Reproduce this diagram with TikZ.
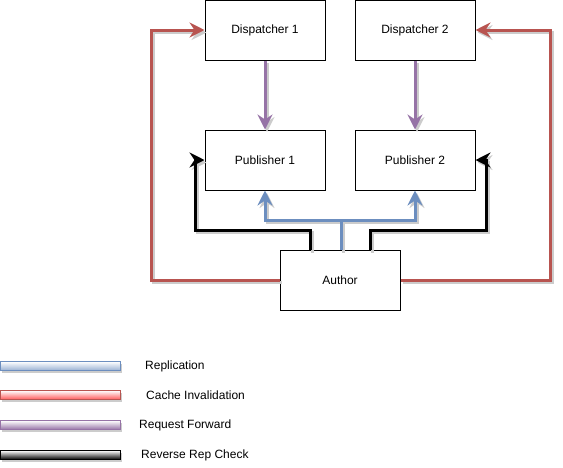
\documentclass[tikz,border=0pt]{standalone}
\usepackage{fontspec}
\setmainfont{Liberation Sans}
\usetikzlibrary{arrows.meta,calc}
\definecolor{cred}{HTML}{B85450}
\definecolor{cblue}{HTML}{6C8EBF}
\definecolor{cpurple}{HTML}{9673A6}
\definecolor{cshadow}{HTML}{CCCCCC}
\tikzset{
  box/.style={draw=black, line width=1pt, fill=white, minimum width=120pt, minimum height=60pt, inner sep=0pt, font=\fontsize{12}{14}\selectfont},
  conn/.style={line width=3pt, -{Stealth[length=15pt,width=15pt,inset=5pt]}},
  plain/.style={line width=3pt},
  inval/.style={conn, draw=cred},
  repl/.style={conn, draw=cblue},
  fwd/.style={conn, draw=cpurple},
  rev/.style={conn, draw=black},
  replplain/.style={plain, draw=cblue},
  legbar/.style={minimum width=120pt, minimum height=9pt, inner sep=0pt, line width=0.7pt},
  legshadow/.style={minimum width=120pt, minimum height=9pt, inner sep=0pt, fill=cshadow},
  leglabel/.style={anchor=west, inner sep=0pt, font=\fontsize{12}{14}\selectfont},
}
\newcommand\myconns{%
\draw[inval] (A.west) -| (redL) -- (D1.west);
\draw[inval] (A.east) -| (redR) -- (D2.east);
\draw[fwd] (D1.south) -- (P1.north);
\draw[fwd] (D2.south) -- (P2.north);
\draw[rev] (ks1) -- ++(0,-20) -| (blkL) -- (P1.west);
\draw[rev] (ks2) -- ++(0,-20) -| (blkR) -- (P2.east);
\draw[replplain] (bs) -- (bj);
\draw[repl] (bj) -| (P1.south);
\draw[repl] (bj) -| (P2.south);
}
\begin{document}
\begin{tikzpicture}[x=1pt,y=-1pt]
\useasboundingbox (0,0) rectangle (563,467);
\coordinate (redL) at (151,30);
\coordinate (redR) at (550,30);
\coordinate (blkL) at (195,160);
\coordinate (blkR) at (486,160);
\coordinate (bj) at (341,220);
\coordinate (bs) at (341,250);
\coordinate (ks1) at (310,250);
\coordinate (ks2) at (370,250);

\node[box] (D1) at (265,30) {Dispatcher 1};
\node[box] (D2) at (415,30) {Dispatcher 2};
\node[box] (P1) at (265,160) {Publisher 1};
\node[box] (P2) at (415,160) {Publisher 2};
\node[box] (A) at (340,280) {Author};

% shadows of connectors
\begin{scope}[transform canvas={shift={(2pt,-2.5pt)}},
  inval/.style={conn, draw=cshadow}, repl/.style={conn, draw=cshadow},
  fwd/.style={conn, draw=cshadow}, rev/.style={conn, draw=cshadow},
  replplain/.style={plain, draw=cshadow}]
\myconns
\end{scope}
\myconns

% legend
\node[legshadow] (S1) at (62,368.5) {};
\node[legshadow] (S2) at (62,397.5) {};
\node[legshadow] (S3) at (62,427.5) {};
\node[legshadow] (S4) at (62,457.5) {};
\node[legbar, draw=cblue, top color=white, middle color=blue!12!white, bottom color=cblue!70!white] (L1) at (60,366) {};
\node[legbar, draw=cred, top color=white, middle color=red!25!white, bottom color=red!65!white] (L2) at (60,395) {};
\node[legbar, draw=cpurple, top color=white, middle color=cpurple!35!white, bottom color=cpurple] (L3) at (60,425) {};
\node[legbar, draw=black, top color=white, middle color=black!45!white, bottom color=black] (L4) at (60,455) {};
\node[leglabel] (T1) at (145,366) {Replication};
\node[leglabel] (T2) at (146,395) {Cache Invalidation};
\node[leglabel] (T3) at (139,425) {Request Forward};
\node[leglabel] (T4) at (141,455) {Reverse Rep Check};
\end{tikzpicture}
\end{document}
